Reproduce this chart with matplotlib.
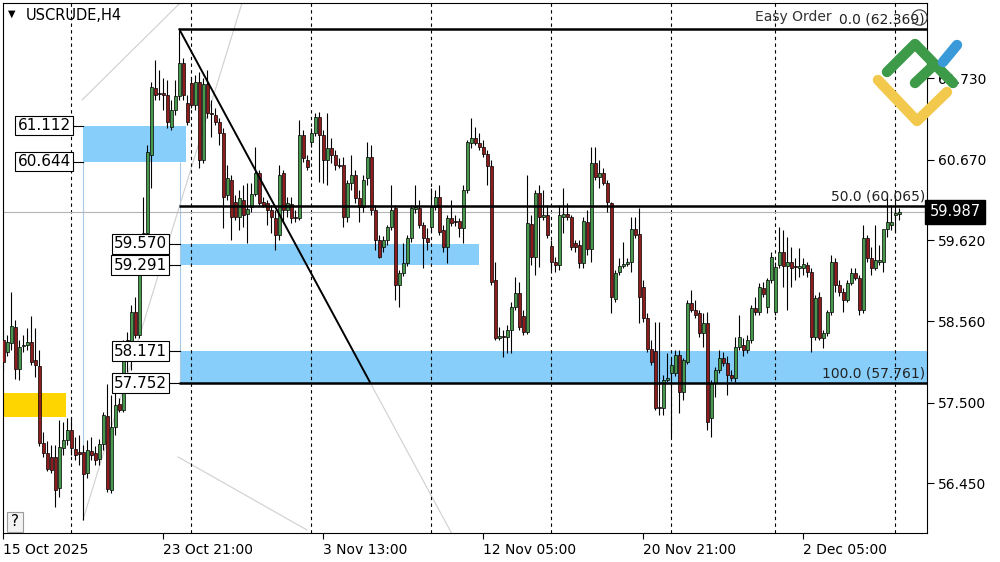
import numpy as np
import matplotlib
matplotlib.use("Agg")
import matplotlib.pyplot as plt
from matplotlib.lines import Line2D
from matplotlib.patches import Rectangle
from matplotlib import transforms

symbol = "USCRUDE,H4"

opens = [
    58.32, 58.16, 58.28, 58.49, 57.94, 58.24, 58.25, 58.29, 58.06, 57.98,
    56.97, 56.84, 56.79, 56.79, 56.39, 56.91, 57.01, 57.14, 56.89, 56.86,
    56.86, 56.58, 56.87, 56.84, 56.76, 56.96, 57.32, 56.36, 57.18, 57.48,
    57.40, 58.32, 58.16, 58.68, 58.38, 59.33, 59.71, 60.73, 61.60, 61.54,
    61.54, 61.51, 61.09, 61.32, 61.50, 61.93, 61.41, 61.67, 61.38, 61.68,
    60.66, 61.66, 61.28, 61.25, 61.16, 61.02, 60.21, 60.40, 60.12, 59.92,
    60.14, 59.96, 60.05, 60.22, 60.49, 60.12, 60.10, 60.01, 59.91, 59.69,
    60.49, 60.01, 60.09, 59.92, 59.91, 60.99, 60.66, 60.90, 61.02, 61.23,
    60.99, 60.66, 60.82, 60.73, 60.60, 60.60, 59.92, 60.36, 60.47, 60.17,
    60.05, 60.43, 60.70, 60.01, 59.62, 59.53, 59.62, 59.79, 60.04, 59.03,
    59.19, 59.32, 59.65, 60.03, 60.04, 59.82, 59.65, 59.79, 60.05, 60.18,
    59.75, 59.53, 59.91, 59.87, 59.87, 59.78, 60.27, 60.89, 60.95, 60.89,
    60.83, 60.74, 60.59, 59.10, 58.34, 58.37, 58.36, 58.45, 58.75, 58.93,
    58.63, 58.42, 59.83, 59.40, 60.23, 59.92, 59.95, 59.54, 59.33, 59.29,
    59.92, 59.96, 59.92, 59.58, 59.55, 59.32, 59.85, 59.50, 60.62, 60.44,
    60.49, 60.36, 60.10, 58.85, 59.20, 59.28, 59.31, 59.33, 59.76, 59.70,
    59.01, 58.60, 58.20, 58.17, 57.44, 57.43, 57.79, 57.88, 57.88, 58.12,
    57.64, 58.03, 58.80, 58.71, 58.67, 58.41, 58.54, 57.30, 57.75, 57.92,
    58.08, 58.02, 57.86, 57.82, 58.22, 58.25, 58.19, 58.32, 58.73, 58.68,
    58.99, 58.75, 59.10, 58.68, 59.29, 59.46, 59.28, 59.33, 59.28, 59.26,
    59.26, 59.29, 59.20, 58.36, 58.88, 58.34, 58.41, 58.68, 59.33, 59.03,
    58.94, 58.84, 59.06, 59.19, 59.12, 58.71, 59.65, 59.39, 59.26, 59.33,
    59.33, 59.76, 59.82, 59.95, 59.96,
]
highs = [
    58.45, 58.38, 58.94, 58.58, 58.32, 58.38, 58.47, 58.63, 58.47, 58.19,
    57.12, 57.00, 56.95, 56.95, 57.27, 57.25, 57.30, 57.31, 57.05, 57.08,
    56.95, 57.01, 57.05, 56.93, 57.02, 57.38, 57.74, 57.60, 57.62, 57.56,
    58.32, 58.42, 58.77, 58.88, 59.39, 60.18, 60.86, 61.68, 61.97, 61.84,
    61.73, 61.71, 61.45, 61.71, 62.37, 61.99, 61.51, 61.73, 61.77, 61.81,
    61.73, 61.84, 61.45, 61.34, 61.21, 61.08, 60.60, 60.47, 60.21, 60.27,
    60.34, 60.36, 60.36, 60.83, 60.53, 60.18, 60.14, 60.08, 60.01, 60.60,
    60.53, 60.18, 60.18, 60.01, 61.19, 61.06, 60.73, 61.08, 61.28, 61.29,
    61.06, 61.28, 60.95, 60.79, 60.69, 60.70, 60.40, 60.73, 60.53, 60.27,
    60.47, 60.90, 60.86, 60.08, 59.69, 59.67, 59.82, 60.34, 60.08, 59.23,
    59.58, 59.69, 60.08, 60.34, 60.14, 59.86, 59.78, 60.30, 60.27, 60.34,
    59.82, 59.95, 60.14, 59.95, 59.91, 60.34, 60.93, 61.21, 61.09, 61.02,
    60.93, 60.79, 60.66, 59.33, 58.48, 58.45, 58.51, 58.81, 59.14, 59.07,
    58.71, 60.47, 59.95, 60.27, 60.34, 60.27, 60.08, 59.62, 59.40, 60.08,
    60.30, 60.10, 59.95, 59.62, 59.62, 59.92, 60.01, 60.83, 60.83, 60.66,
    60.56, 60.40, 60.12, 59.23, 59.39, 59.59, 59.39, 59.92, 59.92, 60.04,
    59.10, 58.67, 58.32, 58.55, 58.55, 57.86, 58.15, 58.08, 58.19, 58.19,
    58.08, 58.84, 58.97, 58.84, 58.71, 58.67, 58.68, 57.79, 57.96, 58.19,
    58.16, 58.11, 57.92, 58.36, 58.64, 58.34, 58.38, 58.77, 58.88, 59.06,
    59.07, 59.12, 59.46, 59.33, 59.79, 59.75, 59.66, 59.53, 59.39, 59.52,
    59.39, 59.33, 59.26, 58.90, 58.94, 58.45, 58.71, 59.42, 59.39, 59.10,
    58.99, 59.10, 59.26, 59.26, 59.16, 59.82, 59.69, 59.53, 59.82, 59.55,
    59.55, 60.23, 60.08, 60.21, 60.04,
]
lows = [
    57.90, 58.11, 58.19, 57.81, 57.79, 58.16, 58.19, 57.99, 57.83, 56.93,
    56.79, 56.61, 56.58, 56.14, 56.27, 56.82, 56.95, 56.82, 56.75, 56.69,
    55.97, 56.52, 56.75, 56.69, 56.69, 56.88, 56.33, 56.32, 57.08, 57.38,
    57.38, 57.90, 57.92, 58.34, 58.34, 59.16, 59.62, 60.30, 61.45, 61.45,
    61.32, 61.08, 61.06, 61.25, 61.45, 61.45, 61.12, 61.34, 61.32, 60.56,
    60.63, 61.21, 60.96, 61.12, 60.86, 59.78, 60.14, 59.62, 59.88, 59.75,
    59.79, 59.58, 59.98, 60.19, 60.08, 60.05, 59.82, 59.71, 59.49, 59.62,
    59.84, 59.92, 59.84, 59.86, 59.88, 60.64, 60.53, 60.83, 60.98, 60.38,
    60.36, 60.34, 60.63, 60.53, 60.56, 59.79, 59.86, 60.27, 60.10, 59.86,
    59.98, 60.34, 59.95, 59.49, 59.39, 59.46, 59.55, 59.75, 58.84, 58.75,
    59.15, 59.28, 59.59, 59.97, 59.78, 59.26, 59.49, 59.73, 60.01, 59.69,
    59.46, 59.32, 59.80, 59.80, 59.66, 59.58, 60.23, 60.82, 60.86, 60.79,
    60.70, 60.34, 59.03, 58.32, 58.32, 58.09, 58.15, 58.15, 58.71, 58.45,
    58.38, 58.39, 59.29, 59.16, 59.27, 59.88, 59.65, 59.23, 59.20, 59.23,
    59.71, 59.88, 59.49, 59.46, 59.26, 59.26, 59.42, 59.33, 60.40, 60.30,
    60.34, 59.98, 58.67, 58.81, 59.16, 59.26, 59.28, 59.20, 59.65, 58.54,
    58.55, 58.16, 57.99, 57.40, 57.34, 57.34, 57.77, 57.05, 57.85, 57.36,
    57.53, 58.00, 58.68, 58.60, 58.36, 58.22, 57.14, 57.05, 57.57, 57.88,
    57.98, 57.60, 57.78, 57.77, 58.19, 58.11, 58.15, 58.28, 58.64, 58.64,
    58.88, 58.67, 59.06, 58.64, 59.26, 59.01, 58.71, 59.01, 59.10, 59.14,
    59.16, 59.14, 58.16, 58.32, 58.32, 58.21, 58.37, 58.64, 58.94, 58.89,
    58.68, 58.81, 59.03, 59.10, 58.64, 58.67, 59.33, 59.16, 59.23, 59.29,
    59.20, 59.66, 59.75, 59.73, 59.88,
]
closes = [
    58.03, 58.29, 58.50, 57.94, 58.22, 58.25, 58.29, 58.03, 57.99, 56.97,
    56.84, 56.63, 56.62, 56.36, 56.92, 57.01, 57.14, 56.91, 56.82, 56.83,
    56.57, 56.88, 56.82, 56.75, 56.96, 57.34, 56.37, 57.18, 57.47, 57.40,
    58.22, 58.16, 58.68, 58.38, 59.23, 59.71, 60.77, 61.62, 61.51, 61.53,
    61.51, 61.16, 61.32, 61.50, 61.93, 61.51, 61.16, 61.38, 61.68, 60.66,
    61.66, 61.28, 61.26, 61.16, 61.02, 60.18, 60.43, 59.92, 59.92, 60.17,
    59.95, 60.03, 60.22, 60.49, 60.10, 60.08, 60.01, 59.92, 59.69, 60.47,
    60.01, 60.10, 59.91, 59.91, 60.99, 60.69, 60.57, 61.02, 61.23, 60.99,
    60.66, 60.82, 60.73, 60.60, 60.59, 59.92, 60.36, 60.47, 60.17, 60.05,
    60.40, 60.70, 60.01, 59.62, 59.40, 59.62, 59.79, 60.01, 59.03, 59.19,
    59.32, 59.65, 60.04, 60.05, 59.82, 59.65, 59.59, 60.05, 60.18, 59.73,
    59.53, 59.91, 59.84, 59.86, 59.78, 60.27, 60.90, 60.95, 60.89, 60.83,
    60.74, 60.59, 59.07, 58.34, 58.37, 58.36, 58.45, 58.75, 58.93, 58.49,
    58.42, 59.84, 59.40, 60.23, 59.92, 59.95, 59.69, 59.33, 59.29, 59.95,
    59.96, 59.92, 59.53, 59.53, 59.32, 59.87, 59.50, 60.62, 60.44, 60.49,
    60.36, 60.12, 58.88, 59.19, 59.28, 59.31, 59.33, 59.76, 59.69, 58.88,
    58.60, 58.20, 58.03, 57.43, 57.43, 57.79, 57.82, 57.99, 58.12, 57.64,
    58.06, 58.80, 58.71, 58.64, 58.41, 58.54, 57.25, 57.75, 57.92, 58.08,
    58.02, 57.86, 57.82, 58.22, 58.36, 58.19, 58.32, 58.73, 58.68, 59.01,
    58.92, 59.10, 59.40, 59.27, 59.46, 59.28, 59.33, 59.26, 59.27, 59.28,
    59.31, 59.20, 58.36, 58.86, 58.34, 58.41, 58.68, 59.33, 59.03, 58.94,
    58.84, 59.06, 59.19, 59.12, 58.71, 59.65, 59.39, 59.26, 59.36, 59.36,
    59.76, 59.86, 59.86, 59.97, 59.987,
]

price_ticks = [61.730, 60.670, 59.620, 58.560, 57.500, 56.450]
date_pos = [0, 40, 80, 120, 160, 200]
date_labels = ["15 Oct 2025", "23 Oct 21:00", "3 Nov 13:00",
               "12 Nov 05:00", "20 Nov 21:00", "2 Dec 05:00"]
week_starts = [17, 47, 77, 107, 137, 167, 193, 223]

fib_start = 44
fib_levels = [0.0, 50.0, 100.0]
fib_prices = [62.369, 60.065, 57.761]
trend_x = [44, 91.7]
trend_y = [62.369, 57.761]

zone_tops = [61.112, 59.570, 58.171]
zone_bottoms = [60.644, 59.291, 57.752]
zone_starts = [19.9, 44.2, 44.2]
zone_ends = [45.7, 118.9, 231.0]
zone_label_x = [16.9, 40.9, 40.9]
yellow_zone = (-0.1, 15.7, 57.31, 57.62)

# light pitchfork lines (index, price)
fork_lines = [((19.9, 55.968), (59.9, 62.751)),
              ((19.7, 61.447), (44.2, 62.712)),
              ((43.7, 56.790), (75.9, 55.837))]
last_price = 59.987

o = np.array(opens)
h = np.array(highs)
l = np.array(lows)
c = np.array(closes)
idx = np.arange(len(c))

fig = plt.figure(figsize=(10, 5.62), dpi=100)
ax = fig.add_axes([0.003, 29 / 562, 0.924, 530 / 562])
ax.set_xlim(-0.075, 230.9)
ax.set_ylim(55.798, 62.712)

# zones
for top, bot, x0, x1 in zip(zone_tops, zone_bottoms, zone_starts, zone_ends):
    ax.fill_between([x0, x1], bot, top, color="#87cefa", lw=0, zorder=1)
yx0, yx1, ylo, yhi = yellow_zone
ax.fill_between([yx0, yx1], ylo, yhi, color="#ffd500", lw=0, zorder=1)

ax.vlines(zone_starts[0], 55.968, zone_bottoms[0], color="#a8c8e4", lw=0.8, zorder=1.5)
ax.vlines(zone_starts[1], zone_bottoms[2], zone_bottoms[0], color="#a8c8e4", lw=0.8, zorder=1.5)

for (x0, y0), (x1, y1) in fork_lines:
    ax.plot([x0, x1], [y0, y1], color="#cfcfcf", lw=0.8, zorder=1.5)

for w in week_starts:
    ax.axvline(w, color="black", lw=0.8, ls=(0, (3, 3)), zorder=1.6)

ax.axhline(last_price, color="#b4b4b4", lw=0.8, zorder=1.7)

# candles
up = c >= o
colors = np.where(up, "#46994a", "#8e1c1c")
ax.vlines(idx, l, h, color="black", lw=0.8, zorder=3)
body = np.maximum(np.abs(c - o), 0.012)
ax.bar(idx, body, bottom=np.minimum(o, c), width=0.72, color=colors,
       edgecolor="black", linewidth=0.5, zorder=3.5)

# fibo + trend
ax.hlines(fib_prices, fib_start, 231, color="black", lw=1.8, zorder=4)
for lvl, p in zip(fib_levels, fib_prices):
    ax.text(230.4, p + 0.03, f"{lvl:.1f} ({p:.3f})", ha="right", va="bottom",
            fontsize=10, color="#222222", zorder=5)
ax.plot(trend_x, trend_y, color="black", lw=1.4, zorder=4)
slope = (trend_y[1] - trend_y[0]) / (trend_x[1] - trend_x[0])
ax.plot([trend_x[1], trend_x[1] + 25], [trend_y[1], trend_y[1] + slope * 25],
        color="#cfcfcf", lw=0.8, zorder=1.5)

# zone labels
box = dict(boxstyle="square,pad=0.15", fc="white", ec="black", lw=0.8)
for top, bot, x0, tx in zip(zone_tops, zone_bottoms, zone_starts, zone_label_x):
    for p in (top, bot):
        ax.plot([tx + 0.5, x0], [p, p], color="black", lw=0.8, zorder=4)
        ax.text(tx, p, f"{p:.3f}", ha="right", va="center", fontsize=11,
                bbox=box, zorder=6)

# axes styling
for s in ax.spines.values():
    s.set_linewidth(0.8)
    s.set_color("black")
ax.yaxis.tick_right()
ax.set_yticks(price_ticks)
ax.set_yticklabels([f"{v:.3f}" for v in price_ticks])
ax.tick_params(axis="y", direction="out", length=5, width=0.8, pad=3, labelsize=10)
ax.set_xticks(date_pos)
ax.set_xticklabels(date_labels)
ax.tick_params(axis="x", direction="out", length=4, width=0.8, pad=3, labelsize=10)
for lbl in ax.get_xticklabels():
    lbl.set_ha("left")

trans = transforms.blended_transform_factory(ax.transAxes, ax.transData)
ax.text(1.003, last_price, f"{last_price:.3f}", transform=trans, ha="left",
        va="center", color="white", fontsize=10.5, clip_on=False, zorder=7,
        bbox=dict(boxstyle="square,pad=0.3", fc="black", ec="black"))


def fx(px):
    return px / 1000


def fy(py):
    return 1 - py / 562


fig.text(fx(12), fy(14), "\u25bc", fontsize=7, ha="center", va="center")
fig.text(fx(26), fy(15), symbol, fontsize=10.5, ha="left", va="center")
fig.text(fx(832), fy(17), "Easy Order", fontsize=10, ha="right", va="center",
         color="#333333")
fig.add_artist(Line2D([fx(919)], [fy(17)], marker="o", markersize=11, mfc="none",
                      mec="#333333", mew=0.8, transform=fig.transFigure))

fig.add_artist(Rectangle((fx(7), fy(532)), 16 / 1000, 20 / 562, transform=fig.transFigure,
                         fc="#f2f2f2", ec="#9a9a9a", lw=0.8))
fig.text(fx(15), fy(522), "?", fontsize=11, ha="center", va="center")

# logo
logo = [
    ("#f2c94c", [878, 917, 947], [80, 121, 92]),
    ("#3d9a48", [887, 915, 953], [72, 44, 83]),
    ("#3d9a48", [915, 933], [83, 66]),
    ("#3a9ad9", [943, 957], [62, 45]),
]
for col, xs, ys in logo:
    fig.add_artist(Line2D([fx(v) for v in xs], [fy(v) for v in ys], color=col, lw=7.5,
                          solid_capstyle="round", solid_joinstyle="round",
                          transform=fig.transFigure, zorder=10))

fig.savefig("out.png", dpi=100, facecolor="white")
